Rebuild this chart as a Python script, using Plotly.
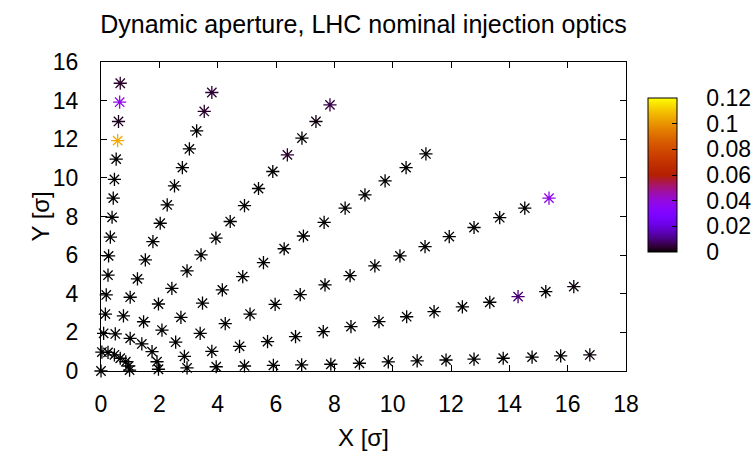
import math
import plotly.graph_objects as go

# ---- data ----
origin_x = [0.0]
origin_y = [0.0]
origin_c = [0.0]

ray1_x = [0.98, 1.97, 2.95, 3.95, 4.92, 5.91, 6.88, 7.88, 8.86, 9.85, 10.84, 11.83, 12.79, 13.79, 14.78, 15.76, 16.76]
ray1_y = [0.05, 0.09, 0.16, 0.22, 0.26, 0.29, 0.32, 0.35, 0.40, 0.47, 0.52, 0.57, 0.61, 0.66, 0.72, 0.78, 0.83]
ray1_c = [0, 0, 0, 0, 0, 0, 0, 0, 0, 0, 0, 0, 0, 0, 0, 0, 0.001]

ray2_x = [0.95, 1.92, 2.86, 3.80, 4.75, 5.71, 6.67, 7.62, 8.57, 9.53, 10.48, 11.42, 12.39, 13.33, 14.30, 15.25, 16.21]
ray2_y = [0.26, 0.48, 0.76, 1.02, 1.28, 1.52, 1.78, 2.04, 2.30, 2.56, 2.81, 3.07, 3.32, 3.56, 3.85, 4.11, 4.37]
ray2_c = [0, 0, 0, 0, 0, 0, 0, 0, 0, 0, 0, 0, 0, 0, 0.009, 0, 0.001]

ray3_x = [0.85, 1.75, 2.56, 3.40, 4.26, 5.11, 5.97, 6.83, 7.68, 8.54, 9.39, 10.25, 11.11, 11.94, 12.79, 13.67, 14.53, 15.36]
ray3_y = [0.48, 1.00, 1.49, 1.95, 2.45, 2.95, 3.45, 3.95, 4.46, 4.94, 5.44, 5.96, 6.44, 6.96, 7.43, 7.94, 8.43, 8.95]
ray3_c = [0, 0, 0, 0, 0, 0, 0, 0, 0, 0, 0, 0, 0, 0, 0, 0, 0, 0.038]

ray4_x = [0.66, 1.40, 2.09, 2.74, 3.48, 4.16, 4.86, 5.57, 6.28, 6.94, 7.65, 8.37, 9.05, 9.74, 10.46, 11.14]
ray4_y = [0.66, 1.40, 2.12, 2.78, 3.51, 4.20, 4.89, 5.61, 6.33, 6.99, 7.70, 8.43, 9.12, 9.84, 10.53, 11.24]
ray4_c = [0, 0, 0, 0, 0, 0, 0, 0, 0, 0, 0, 0, 0, 0, 0, 0]

ray5_x = [0.46, 1.00, 1.46, 1.97, 2.43, 2.95, 3.43, 3.94, 4.43, 4.92, 5.40, 5.89, 6.39, 6.89, 7.37, 7.85]
ray5_y = [0.84, 1.69, 2.55, 3.47, 4.28, 5.18, 6.01, 6.88, 7.74, 8.56, 9.45, 10.33, 11.19, 12.06, 12.92, 13.78]
ray5_c = [0, 0, 0, 0, 0, 0, 0, 0, 0, 0, 0, 0, 0.003, 0, 0.001, 0.005]

ray6_x = [0.24, 0.49, 0.77, 1.00, 1.25, 1.52, 1.78, 2.03, 2.27, 2.52, 2.79, 3.03, 3.28, 3.54, 3.80]
ray6_y = [0.96, 1.92, 2.85, 3.82, 4.77, 5.75, 6.70, 7.65, 8.60, 9.59, 10.53, 11.50, 12.43, 13.44, 14.42]
ray6_c = [0, 0, 0, 0, 0, 0, 0, 0, 0, 0, 0, 0, 0, 0.003, 0.004]

ray7_x = [0.03, 0.09, 0.15, 0.18, 0.24, 0.26, 0.32, 0.38, 0.42, 0.46, 0.52, 0.57, 0.60, 0.64, 0.66]
ray7_y = [0.98, 1.95, 2.95, 3.94, 4.96, 5.96, 6.93, 7.96, 8.95, 9.92, 10.97, 11.93, 12.92, 13.92, 14.90]
ray7_c = [0, 0, 0, 0, 0, 0, 0, 0, 0, 0, 0, 0.105, 0.002, 0.038, 0.003]

x_all = origin_x + ray1_x + ray2_x + ray3_x + ray4_x + ray5_x + ray6_x + ray7_x
y_all = origin_y + ray1_y + ray2_y + ray3_y + ray4_y + ray5_y + ray6_y + ray7_y
c_all = origin_c + ray1_c + ray2_c + ray3_c + ray4_c + ray5_c + ray6_c + ray7_c

c_min, c_max = 0.0, 0.12
x_ticks = [0, 2, 4, 6, 8, 10, 12, 14, 16, 18]
y_ticks = [0, 2, 4, 6, 8, 10, 12, 14, 16]
cb_ticks = [0, 0.02, 0.04, 0.06, 0.08, 0.1, 0.12]
cb_labels = ["0", "0.02", "0.04", "0.06", "0.08", "0.1", "0.12"]

# gnuplot rgbformulae 7,5,15 palette
def pal(t):
    r = math.sqrt(t)
    g = t ** 3
    b = max(0.0, math.sin(2 * math.pi * t))
    return "rgb(%d,%d,%d)" % (round(r * 255), round(g * 255), round(b * 255))

colorscale = [[i / 40, pal(i / 40)] for i in range(41)]

FONT = "Liberation Sans, Arial, sans-serif"
PAD = "\u00a0" * 3 + "\u2009"

fig = go.Figure()
fig.add_trace(go.Scatter(
    x=x_all, y=y_all, mode="markers", cliponaxis=False,
    marker=dict(
        symbol="asterisk-open", size=11,
        color=c_all, cmin=c_min, cmax=c_max, colorscale=colorscale,
        line=dict(width=1.3),
        colorbar=dict(
            x=1.0426, xanchor="left", y=0.385, yanchor="bottom",
            len=0.498, lenmode="fraction", thickness=29, thicknessmode="pixels",
            outlinecolor="black", outlinewidth=1,
            ticks="inside", ticklen=5, tickcolor="black",
            tickvals=cb_ticks,
            ticktext=[PAD + s for s in cb_labels],
            tickfont=dict(size=23, color="black", family=FONT),
            xpad=0, ypad=0,
        ),
    ),
    showlegend=False,
))

axis_common = dict(
    showgrid=False, zeroline=False, showline=True, linecolor="black", linewidth=1,
    mirror="ticks", ticks="inside", ticklen=6, tickcolor="black",
    tickfont=dict(size=23, color="black", family=FONT),
)

fig.update_layout(
    width=753, height=461,
    margin=dict(l=101, r=127, t=62, b=90, autoexpand=False),
    paper_bgcolor="white", plot_bgcolor="white",
    font=dict(family=FONT, color="black", size=23),
    title=dict(text="Dynamic aperture, LHC nominal injection optics",
               x=0.5, xref="paper", xanchor="center", y=0.948, yref="container", yanchor="middle",
               font=dict(size=25, color="black", family=FONT)),
    xaxis=dict(range=[0, 18], tickvals=x_ticks, ticklabelstandoff=12, **axis_common),
    yaxis=dict(range=[0, 16], tickvals=y_ticks, ticklabelstandoff=17, **axis_common),
    annotations=[
        dict(text="X [σ]", x=0.5, xref="paper", y=-0.2136, yref="paper",
             xanchor="center", yanchor="middle", showarrow=False,
             font=dict(size=24, family=FONT, color="black")),
        dict(text="Y [σ]", x=-0.116, xref="paper", y=0.5, yref="paper",
             xanchor="center", yanchor="middle", showarrow=False, textangle=-90,
             font=dict(size=24, family=FONT, color="black")),
    ],
)

fig.write_html("out.html")
